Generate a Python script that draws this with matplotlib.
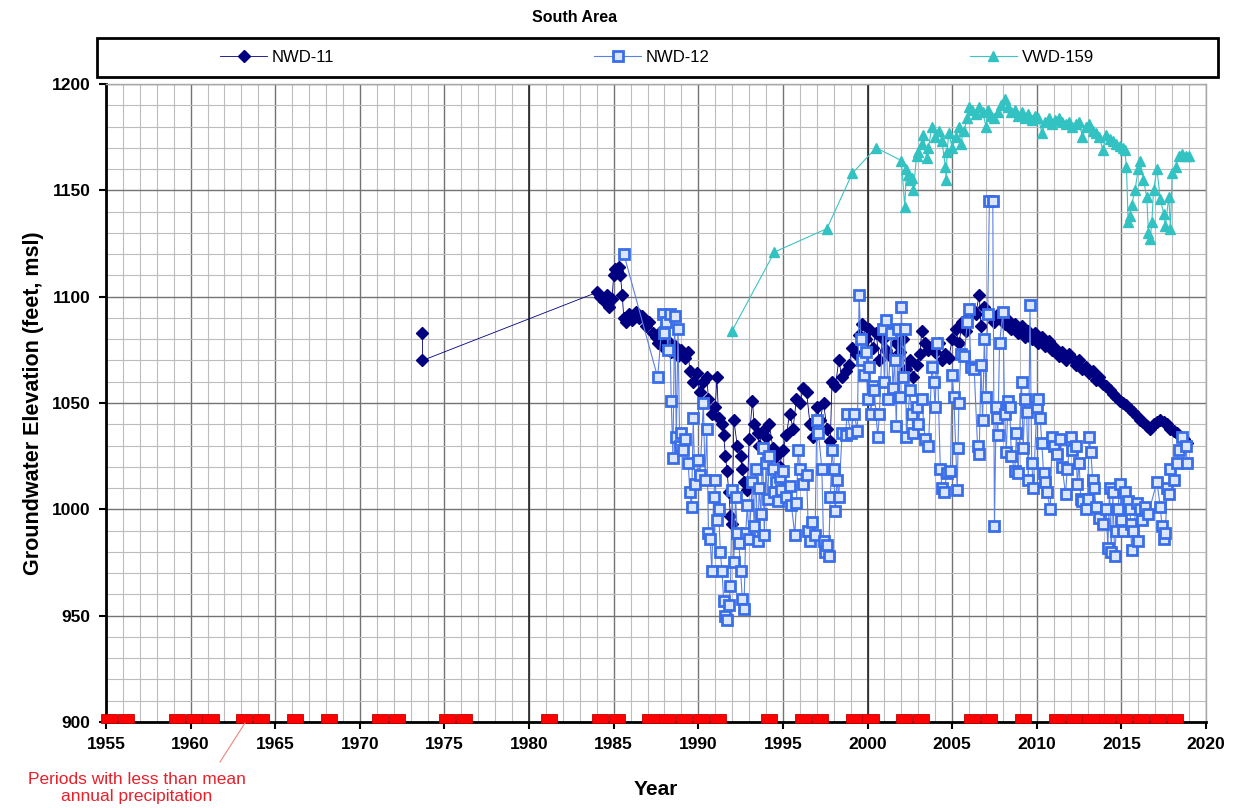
import numpy as np
import matplotlib
matplotlib.use("Agg")
import matplotlib.pyplot as plt
from matplotlib.ticker import MultipleLocator
from matplotlib.patches import Rectangle
from matplotlib.lines import Line2D

plt.rcParams['font.family'] = ['Liberation Sans', 'DejaVu Sans']

# NWD-11 (год, отметка)
nwd11_year = [1973.7, 1973.7, 1984.0, 1984.2, 1984.4, 1984.6, 1984.7, 1984.9, 1985.0, 1985.1,
              1985.2, 1985.3, 1985.4, 1985.5, 1985.6, 1985.7, 1985.9, 1986.1, 1986.3, 1986.5,
              1986.7, 1986.9, 1987.1, 1987.3, 1987.5, 1987.6, 1987.8, 1988.0, 1988.2, 1988.4,
              1988.6, 1988.8, 1989.0, 1989.2, 1989.4, 1989.5, 1989.7, 1989.9, 1990.1, 1990.3,
              1990.5, 1990.6, 1990.8, 1991.0, 1991.1, 1991.2, 1991.4, 1991.5, 1991.6, 1991.7,
              1991.8, 1991.9, 1992.0, 1992.1, 1992.3, 1992.5, 1992.6, 1992.7, 1992.9, 1993.0,
              1993.2, 1993.3, 1993.5, 1993.6, 1993.8, 1994.0, 1994.2, 1994.4, 1994.6, 1994.8,
              1995.0, 1995.2, 1995.4, 1995.6, 1995.8, 1996.0, 1996.2, 1996.4, 1996.6, 1996.8,
              1997.0, 1997.2, 1997.4, 1997.6, 1997.8, 1997.9, 1998.1, 1998.3, 1998.5, 1998.7,
              1998.9, 1999.1, 1999.3, 1999.5, 1999.7, 1999.9, 2000.1, 2000.3, 2000.5, 2000.7,
              2000.9, 2001.1, 2001.3, 2001.5, 2001.7, 2001.9, 2002.1, 2002.3, 2002.5, 2002.7,
              2002.9, 2003.1, 2003.2, 2003.4, 2003.6, 2003.8, 2004.0, 2004.2, 2004.4, 2004.6,
              2004.8, 2005.0, 2005.2, 2005.4, 2005.6, 2005.8, 2006.0, 2006.2, 2006.4, 2006.6,
              2006.7, 2006.9, 2007.1, 2007.3, 2007.5, 2007.7, 2007.9, 2008.1, 2008.3, 2008.5,
              2008.7, 2008.9, 2009.1, 2009.3, 2009.5, 2009.7, 2009.9, 2010.1, 2010.3, 2010.5,
              2010.7, 2010.9, 2011.1, 2011.3, 2011.5, 2011.7, 2011.9, 2012.1, 2012.3, 2012.5,
              2012.7, 2012.9, 2013.1, 2013.3, 2013.5, 2013.7, 2013.9, 2014.1, 2014.3, 2014.5,
              2014.7, 2014.9, 2015.1, 2015.3, 2015.5, 2015.7, 2015.9, 2016.1, 2016.3, 2016.5,
              2016.7, 2016.9, 2017.1, 2017.3, 2017.5, 2017.7, 2017.9, 2018.1, 2018.3, 2018.5,
              2018.7, 2018.9]
nwd11_elev = [1083, 1070, 1102, 1100, 1098, 1101, 1095, 1099, 1110, 1113,
              1112, 1114, 1110, 1101, 1090, 1088, 1092, 1089, 1093, 1090,
              1091, 1086, 1088, 1083, 1081, 1078, 1084, 1076, 1079, 1074,
              1077, 1072, 1075, 1071, 1074, 1065, 1060, 1064, 1055, 1060,
              1062, 1052, 1045, 1048, 1062, 1043, 1040, 1035, 1025, 1018,
              1008, 997, 993, 1042, 1030, 1025, 1019, 1013, 1009, 1033,
              1051, 1040, 1036, 1030, 1037, 1034, 1040, 1029, 1025, 1020,
              1028, 1035, 1045, 1038, 1052, 1050, 1057, 1055, 1040, 1034,
              1048, 1042, 1050, 1038, 1032, 1060, 1058, 1070, 1062, 1065,
              1068, 1076, 1073, 1082, 1087, 1080, 1085, 1076, 1083, 1070,
              1080, 1075, 1072, 1084, 1078, 1074, 1080, 1066, 1070, 1062,
              1068, 1073, 1084, 1078, 1075, 1077, 1074, 1078, 1070, 1073,
              1071, 1080, 1085, 1078, 1088, 1084, 1091, 1094, 1092, 1101,
              1086, 1095, 1093, 1091, 1088, 1092, 1090, 1087, 1089, 1085,
              1087, 1083, 1086, 1081, 1084, 1080, 1083, 1078, 1081, 1077,
              1079, 1075, 1076, 1072, 1074, 1070, 1073, 1071, 1068, 1070,
              1066, 1067, 1064, 1065, 1061, 1062, 1059, 1058, 1056, 1054,
              1053, 1051, 1050, 1049, 1047, 1046, 1044, 1042, 1041, 1039,
              1038, 1040, 1041, 1042, 1041, 1040, 1038, 1037, 1036, 1034,
              1033, 1031]

# NWD-12
nwd12_year = [1985.6, 1987.6, 1987.9, 1988.0, 1988.1, 1988.2, 1988.3, 1988.4, 1988.5, 1988.6,
              1988.7, 1988.8, 1988.9, 1989.0, 1989.1, 1989.2, 1989.4, 1989.5, 1989.6, 1989.7,
              1989.8, 1990.0, 1990.1, 1990.3, 1990.4, 1990.5, 1990.6, 1990.7, 1990.8, 1990.9,
              1991.0, 1991.1, 1991.2, 1991.3, 1991.4, 1991.5, 1991.6, 1991.7, 1991.8, 1991.9,
              1992.0, 1992.1, 1992.2, 1992.3, 1992.4, 1992.5, 1992.6, 1992.7, 1992.8, 1992.9,
              1993.0, 1993.2, 1993.3, 1993.4, 1993.5, 1993.6, 1993.7, 1993.8, 1993.9, 1994.0,
              1994.1, 1994.2, 1994.4, 1994.5, 1994.6, 1994.7, 1994.8, 1994.9, 1995.0, 1995.2,
              1995.4, 1995.5, 1995.7, 1995.8, 1995.9, 1996.0, 1996.2, 1996.4, 1996.5, 1996.6,
              1996.7, 1996.9, 1997.0, 1997.1, 1997.3, 1997.4, 1997.5, 1997.6, 1997.7, 1997.8,
              1997.9, 1998.0, 1998.1, 1998.2, 1998.3, 1998.5, 1998.7, 1998.8, 1999.0, 1999.2,
              1999.4, 1999.5, 1999.6, 1999.7, 1999.8, 1999.9, 2000.0, 2000.1, 2000.2, 2000.3,
              2000.4, 2000.6, 2000.7, 2000.9, 2001.0, 2001.1, 2001.2, 2001.4, 2001.5, 2001.6,
              2001.7, 2001.8, 2001.9, 2002.0, 2002.1, 2002.2, 2002.3, 2002.5, 2002.6, 2002.7,
              2002.9, 2003.0, 2003.2, 2003.4, 2003.6, 2003.8, 2003.9, 2004.0, 2004.1, 2004.3,
              2004.4, 2004.5, 2004.7, 2004.9, 2005.0, 2005.1, 2005.3, 2005.35, 2005.4, 2005.5,
              2005.7, 2005.9, 2006.0, 2006.1, 2006.3, 2006.5, 2006.6, 2006.7, 2006.8, 2006.9,
              2007.0, 2007.1, 2007.2, 2007.4, 2007.5, 2007.6, 2007.65, 2007.7, 2007.8, 2008.0,
              2008.1, 2008.2, 2008.3, 2008.4, 2008.5, 2008.7, 2008.8, 2008.9, 2009.1, 2009.2,
              2009.3, 2009.4, 2009.5, 2009.6, 2009.7, 2009.8, 2010.0, 2010.1, 2010.2, 2010.3,
              2010.4, 2010.5, 2010.6, 2010.8, 2010.9, 2011.0, 2011.2, 2011.4, 2011.5, 2011.7,
              2011.8, 2012.0, 2012.1, 2012.3, 2012.4, 2012.5, 2012.6, 2012.7, 2012.9, 2013.0,
              2013.1, 2013.2, 2013.3, 2013.4, 2013.5, 2013.7, 2013.9, 2014.1, 2014.2, 2014.3,
              2014.4, 2014.5, 2014.6, 2014.7, 2014.8, 2014.9, 2015.0, 2015.1, 2015.2, 2015.4,
              2015.5, 2015.55, 2015.6, 2015.7, 2015.9, 2016.0, 2016.1, 2016.2, 2016.4, 2016.6,
              2017.1, 2017.3, 2017.4, 2017.5, 2017.6, 2017.7, 2017.8, 2017.9, 2018.1, 2018.3,
              2018.4, 2018.6, 2018.8, 2018.9]
nwd12_elev = [1120, 1062, 1092, 1083, 1088, 1075, 1092, 1051, 1024, 1091,
              1034, 1085, 1030, 1036, 1028, 1033, 1022, 1008, 1001, 1043,
              1012, 1023, 1016, 1050, 1014, 1038, 989, 986, 971, 1006,
              1014, 995, 1000, 980, 971, 957, 950, 948, 955, 964,
              1009, 975, 1006, 989, 984, 971, 958, 953, 989, 1002,
              986, 1013, 992, 1019, 985, 1010, 998, 1029, 988, 1022,
              1005, 1025, 1019, 1008, 1013, 1004, 1015, 1009, 1018, 1006,
              1011, 1002, 988, 1003, 1028, 1019, 1012, 1016, 990, 985,
              994, 988, 1042, 1036, 1019, 985, 980, 983, 978, 1006,
              1028, 1019, 999, 1014, 1006, 1036, 1035, 1045, 1036, 1045,
              1037, 1101, 1080, 1070, 1063, 1074, 1052, 1067, 1045, 1058,
              1056, 1034, 1045, 1085, 1060, 1089, 1052, 1083, 1057, 1070,
              1039, 1085, 1053, 1095, 1062, 1085, 1034, 1056, 1045, 1036,
              1048, 1040, 1052, 1033, 1030, 1067, 1060, 1048, 1078, 1019,
              1010, 1008, 1017, 1018, 1063, 1053, 1009, 1029, 1050, 1073,
              1072, 1088, 1094, 1067, 1066, 1030, 1026, 1068, 1042, 1080,
              1053, 1092, 1145, 1145, 992, 1048, 1043, 1035, 1078, 1093,
              1045, 1027, 1051, 1048, 1025, 1018, 1036, 1017, 1060, 1029,
              1052, 1046, 1014, 1096, 1022, 1010, 1048, 1052, 1043, 1031,
              1017, 1013, 1008, 1000, 1034, 1030, 1026, 1033, 1020, 1007,
              1019, 1034, 1028, 1030, 1012, 1022, 1005, 1004, 1000, 1005,
              1034, 1027, 1014, 1010, 1001, 996, 993, 1000, 982, 1010,
              980, 1008, 978, 990, 1000, 1012, 995, 990, 1008, 1004,
              1000, 993, 981, 990, 1003, 985, 1000, 995, 1001, 998,
              1013, 1001, 992, 986, 989, 1010, 1007, 1019, 1014, 1022,
              1028, 1034, 1030, 1022]

# VWD-159
vwd159_year = [1992.0, 1994.5, 1997.6, 1999.1, 2000.5, 2002.0, 2002.2, 2002.3, 2002.4, 2002.5,
               2002.6, 2002.7, 2002.9, 2003.0, 2003.2, 2003.3, 2003.5, 2003.6, 2003.8, 2004.0,
               2004.2, 2004.4, 2004.6, 2004.65, 2004.7, 2004.8, 2005.0, 2005.2, 2005.4, 2005.5,
               2005.7, 2005.9, 2006.0, 2006.2, 2006.4, 2006.6, 2006.8, 2007.0, 2007.1, 2007.3,
               2007.5, 2007.7, 2007.9, 2008.1, 2008.3, 2008.5, 2008.7, 2008.9, 2009.1, 2009.3,
               2009.5, 2009.7, 2009.9, 2010.1, 2010.3, 2010.5, 2010.7, 2010.9, 2011.1, 2011.3,
               2011.5, 2011.7, 2011.9, 2012.1, 2012.3, 2012.5, 2012.7, 2012.9, 2013.1, 2013.3,
               2013.5, 2013.7, 2013.9, 2014.1, 2014.3, 2014.5, 2014.7, 2014.9, 2015.1, 2015.2,
               2015.3, 2015.4, 2015.5, 2015.6, 2015.8, 2016.0, 2016.1, 2016.3, 2016.5, 2016.6,
               2016.7, 2016.8, 2016.9, 2017.1, 2017.3, 2017.5, 2017.6, 2017.8, 2017.9, 2018.0,
               2018.2, 2018.4, 2018.6, 2018.8, 2019.0]
vwd159_elev = [1084, 1121, 1132, 1158, 1170, 1164, 1142, 1160, 1157, 1155,
               1156, 1150, 1166, 1168, 1172, 1176, 1165, 1170, 1180, 1175,
               1178, 1173, 1161, 1155, 1168, 1177, 1170, 1175, 1180, 1172,
               1178, 1184, 1189, 1188, 1186, 1189, 1187, 1180, 1188, 1185,
               1184, 1187, 1190, 1193, 1189, 1187, 1188, 1185, 1187, 1184,
               1186, 1183, 1185, 1184, 1177, 1182, 1184, 1181, 1183, 1184,
               1182, 1181, 1182, 1180, 1181, 1182, 1175, 1180, 1181, 1178,
               1177, 1175, 1169, 1176, 1174, 1173, 1172, 1171, 1170, 1169,
               1161, 1135, 1138, 1143, 1150, 1160, 1164, 1155, 1147, 1130,
               1127, 1135, 1150, 1160, 1146, 1139, 1133, 1147, 1132, 1158,
               1161, 1166, 1167, 1166, 1166]

# годы с осадками ниже среднего
dry_years = [1955, 1956, 1959, 1960, 1961, 1963, 1964, 1966, 1968, 1971, 1972,
             1975, 1976, 1981, 1984, 1985, 1987, 1988, 1989, 1990, 1991, 1994,
             1996, 1997, 1999, 2000, 2002, 2003, 2006, 2007, 2009, 2011, 2012,
             2013, 2014, 2015, 2016, 2017, 2018]

W, H = 1241, 808
fig = plt.figure(figsize=(W / 100, H / 100), dpi=100)
ax = fig.add_axes([106 / W, 1 - 722 / H, 1100 / W, 638 / H])

ax.set_xlim(1955, 2020)
ax.set_ylim(900, 1200)
ax.xaxis.set_major_locator(MultipleLocator(5))
ax.xaxis.set_minor_locator(MultipleLocator(1))
ax.yaxis.set_major_locator(MultipleLocator(50))
ax.yaxis.set_minor_locator(MultipleLocator(10))
ax.grid(which='minor', color='#bdbdbd', lw=0.8)
ax.grid(which='major', color='#737373', lw=1.0)
for yr in (1980, 2000):
    ax.axvline(yr, color='#262626', lw=1.2, zorder=0.8)
ax.set_axisbelow(True)

ax.tick_params(which='minor', length=0)
ax.tick_params(which='major', direction='out', length=5, width=1.5, pad=6)
for lab in ax.get_xticklabels() + ax.get_yticklabels():
    lab.set_fontweight('bold')
    lab.set_fontsize(12.5)
for s in ('left', 'bottom'):
    ax.spines[s].set_linewidth(2)
    ax.spines[s].set_color('black')
for s in ('top', 'right'):
    ax.spines[s].set_linewidth(1)
    ax.spines[s].set_color('#a8a8a8')

# полосы засушливых лет
ax.bar(np.array(dry_years) - 0.3, 4.6, width=0.95, bottom=899.3, align='edge',
       color='#ff0000', edgecolor='#c00000', lw=0.6, clip_on=False, zorder=4)

l1, = ax.plot(nwd11_year, nwd11_elev, color='#000080', lw=0.6, marker='D', ms=6,
              mfc='#000080', mec='#000080', zorder=5, label='NWD-11')
l2, = ax.plot(nwd12_year, nwd12_elev, color='#5b80e6', lw=0.8, marker='s', ms=6.5,
              mfc='#dde6ff', mec='#3a6ee8', mew=2, zorder=6, label='NWD-12')
l3, = ax.plot(vwd159_year, vwd159_elev, color='#3cc4c4', lw=0.8, marker='^', ms=7.5,
              mfc='#33c2c2', mec='#33c2c2', zorder=7, label='VWD-159')

ax.set_xlabel('Year', fontsize=15, fontweight='bold', labelpad=20)
ax.set_ylabel('Groundwater Elevation (feet, msl)', fontsize=15.5, fontweight='bold', labelpad=6)

# легенда в рамке
fig.patches.append(Rectangle((97 / W, 1 - 77 / H), 1121 / W, 39 / H, transform=fig.transFigure,
                             fill=False, lw=2, ec='black'))
fig.legend(handles=[l1, l2, l3], loc='center', bbox_to_anchor=(657 / W, 1 - 57 / H),
           ncol=3, frameon=False, fontsize=12, handlelength=2.8, handletextpad=0.3,
           columnspacing=15.6, numpoints=1)

fig.text(575 / W, 1 - 17 / H, 'South Area', ha='center', va='center',
         fontsize=11.5, fontweight='bold')
fig.text(137 / W, 1 - 788 / H, 'Periods with less than mean\nannual precipitation',
         ha='center', va='center', fontsize=12.5, color='#e8202a', linespacing=1.15)
fig.add_artist(Line2D([220 / W, 245 / W], [1 - 762 / H, 1 - 723 / H],
                      transform=fig.transFigure, color='#f08080', lw=0.8))

fig.savefig('out.png', dpi=100)
